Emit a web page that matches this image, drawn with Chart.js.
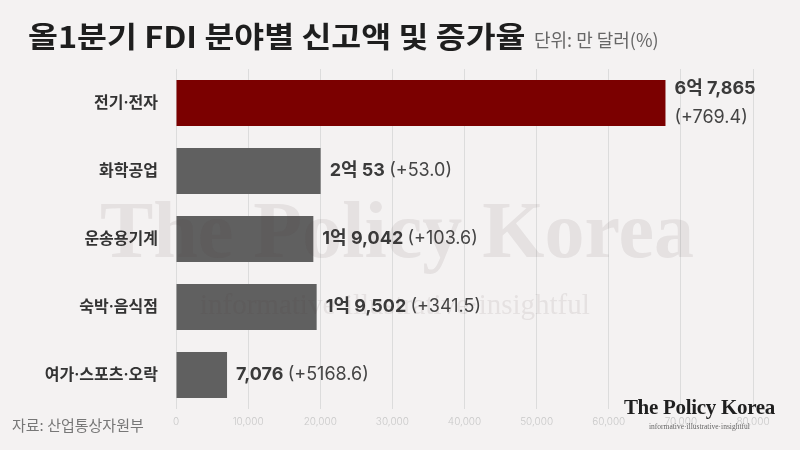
<!DOCTYPE html>
<html>
<head>
  <meta charset="utf-8">
  <title>올1분기 FDI 분야별 신고액 및 증가율</title>
  <script src="https://cdn.jsdelivr.net/npm/chart.js"></script>
  <style>
    body {
      margin: 0;
      background-color: #f4f2f2;
      font-family: 'Noto Sans CJK KR', 'Noto Sans', sans-serif;
    }
    .wrap {
      position: relative;
      width: 800px;
      height: 450px;
      overflow: hidden;
    }
    canvas {
      position: absolute;
      left: 0;
      top: 0;
    }
    .title {
      position: absolute;
      left: 28px;
      top: 21px;
      font-size: 29px;
      line-height: 29px;
      font-weight: 700;
      color: #1e1e1e;
      white-space: nowrap;
      transform: scaleX(1.12);
      transform-origin: left top;
    }
    .unit {
      position: absolute;
      left: 534px;
      top: 30px;
      font-size: 18px;
      line-height: 18px;
      color: #666;
      white-space: nowrap;
    }
    .source {
      position: absolute;
      left: 12px;
      top: 415px;
      font-size: 15px;
      line-height: 20px;
      color: #777;
    }
    .logo {
      position: absolute;
      right: 25px;
      top: 397px;
      text-align: center;
      font-family: 'Liberation Serif', serif;
      color: #1f1f1f;
    }
    .logo .name {
      font-size: 21px;
      line-height: 21px;
      font-weight: 700;
      letter-spacing: -0.3px;
    }
    .logo .tag {
      font-size: 7.5px;
      line-height: 9px;
      color: #666;
      margin-top: 4px;
    }
  </style>
</head>
<body>
  <div class="wrap">
    <canvas id="fdiChart" width="800" height="450"></canvas>
    <div class="title">올1분기 FDI 분야별 신고액 및 증가율</div>
    <div class="unit">단위: 만 달러(%)</div>
    <div class="source">자료: 산업통상자원부</div>
    <div class="logo">
      <div class="name">The Policy Korea</div>
      <div class="tag">informative·illustrative·insightful</div>
    </div>
  </div>

  <script>
    const categories = ['전기·전자', '화학공업', '운송용기계', '숙박·음식점', '여가·스포츠·오락'];
    const amounts = [67865, 20053, 19042, 19502, 7076];           // 만 달러
    const amountLabels = ['6억 7,865', '2억 53', '1억 9,042', '1억 9,502', '7,076'];
    const growthRates = [769.4, 53.0, 103.6, 341.5, 5168.6];      // %
    const xTicks = [0, 10000, 20000, 30000, 40000, 50000, 60000, 70000, 80000];

    const barColors = ['#7b0000', '#606060', '#606060', '#606060', '#606060'];
    const fontKR = "Inter, 'Noto Sans CJK KR', sans-serif";

    // value labels: bold amount + regular growth rate, wraps when it runs off the right side
    const valueLabels = {
      id: 'valueLabels',
      afterDatasetsDraw(chart) {
        const ctx = chart.ctx;
        const meta = chart.getDatasetMeta(0);
        ctx.save();
        ctx.textBaseline = 'middle';
        ctx.textAlign = 'left';
        meta.data.forEach((bar, i) => {
          const x = bar.x + 9;
          const y = bar.y;
          const rate = '(+' + growthRates[i].toFixed(1) + ')';
          ctx.font = '700 18px ' + fontKR;
          const w1 = ctx.measureText(amountLabels[i] + ' ').width;
          ctx.font = '400 18px ' + fontKR;
          const w2 = ctx.measureText(rate).width;

          ctx.fillStyle = '#3a3a3a';
          ctx.font = '700 18px ' + fontKR;
          if (x + w1 + w2 > chart.width - 10) {
            ctx.fillText(amountLabels[i], x, y - 14);
            ctx.font = '400 18px ' + fontKR;
            ctx.fillStyle = '#444';
            ctx.fillText(rate, x, y + 15);
          } else {
            ctx.fillText(amountLabels[i], x, y);
            ctx.font = '400 18px ' + fontKR;
            ctx.fillStyle = '#444';
            ctx.fillText(rate, x + w1, y);
          }
        });
        ctx.restore();
      }
    };

    // faint watermark over the plot
    const watermark = {
      id: 'watermark',
      afterDraw(chart) {
        const ctx = chart.ctx;
        ctx.save();
        ctx.fillStyle = 'rgba(80, 60, 60, 0.09)';
        ctx.textAlign = 'left';
        ctx.textBaseline = 'alphabetic';
        ctx.font = "bold 80px 'Liberation Serif', serif";
        ctx.fillText('The Policy Korea', 100, 257);
        ctx.font = "29px 'Liberation Serif', serif";
        ctx.fillText('informative·illustrative·insightful', 200, 314);
        ctx.restore();
      }
    };

    const ctx = document.getElementById('fdiChart').getContext('2d');
    new Chart(ctx, {
      type: 'bar',
      data: {
        labels: categories,
        datasets: [{
          data: amounts,
          backgroundColor: barColors,
          borderWidth: 0,
          barPercentage: 0.68,
          categoryPercentage: 1
        }]
      },
      options: {
        indexAxis: 'y',
        responsive: false,
        animation: false,
        layout: {
          padding: { top: 69, right: 47, left: 0, bottom: 0 }
        },
        plugins: {
          legend: { display: false },
          tooltip: { enabled: false }
        },
        scales: {
          x: {
            min: xTicks[0],
            max: xTicks[xTicks.length - 1],
            afterBuildTicks: scale => {
              scale.ticks = xTicks.map(v => ({ value: v }));
            },
            afterFit: scale => { scale.height = 41; },
            ticks: {
              callback: v => v.toLocaleString('en-US'),
              color: '#c9c9c9',
              font: { family: fontKR, size: 10, weight: 300 },
              padding: 7,
              maxRotation: 0
            },
            grid: {
              color: '#dcdcdc',
              lineWidth: 1,
              drawTicks: false
            },
            border: { display: false }
          },
          y: {
            afterFit: scale => { scale.width = 176; },
            ticks: {
              color: '#333',
              font: { family: fontKR, size: 16, weight: 600 },
              padding: 18
            },
            grid: { display: false, drawTicks: false },
            border: { display: false }
          }
        }
      },
      plugins: [valueLabels, watermark]
    });
  </script>
</body>
</html>
